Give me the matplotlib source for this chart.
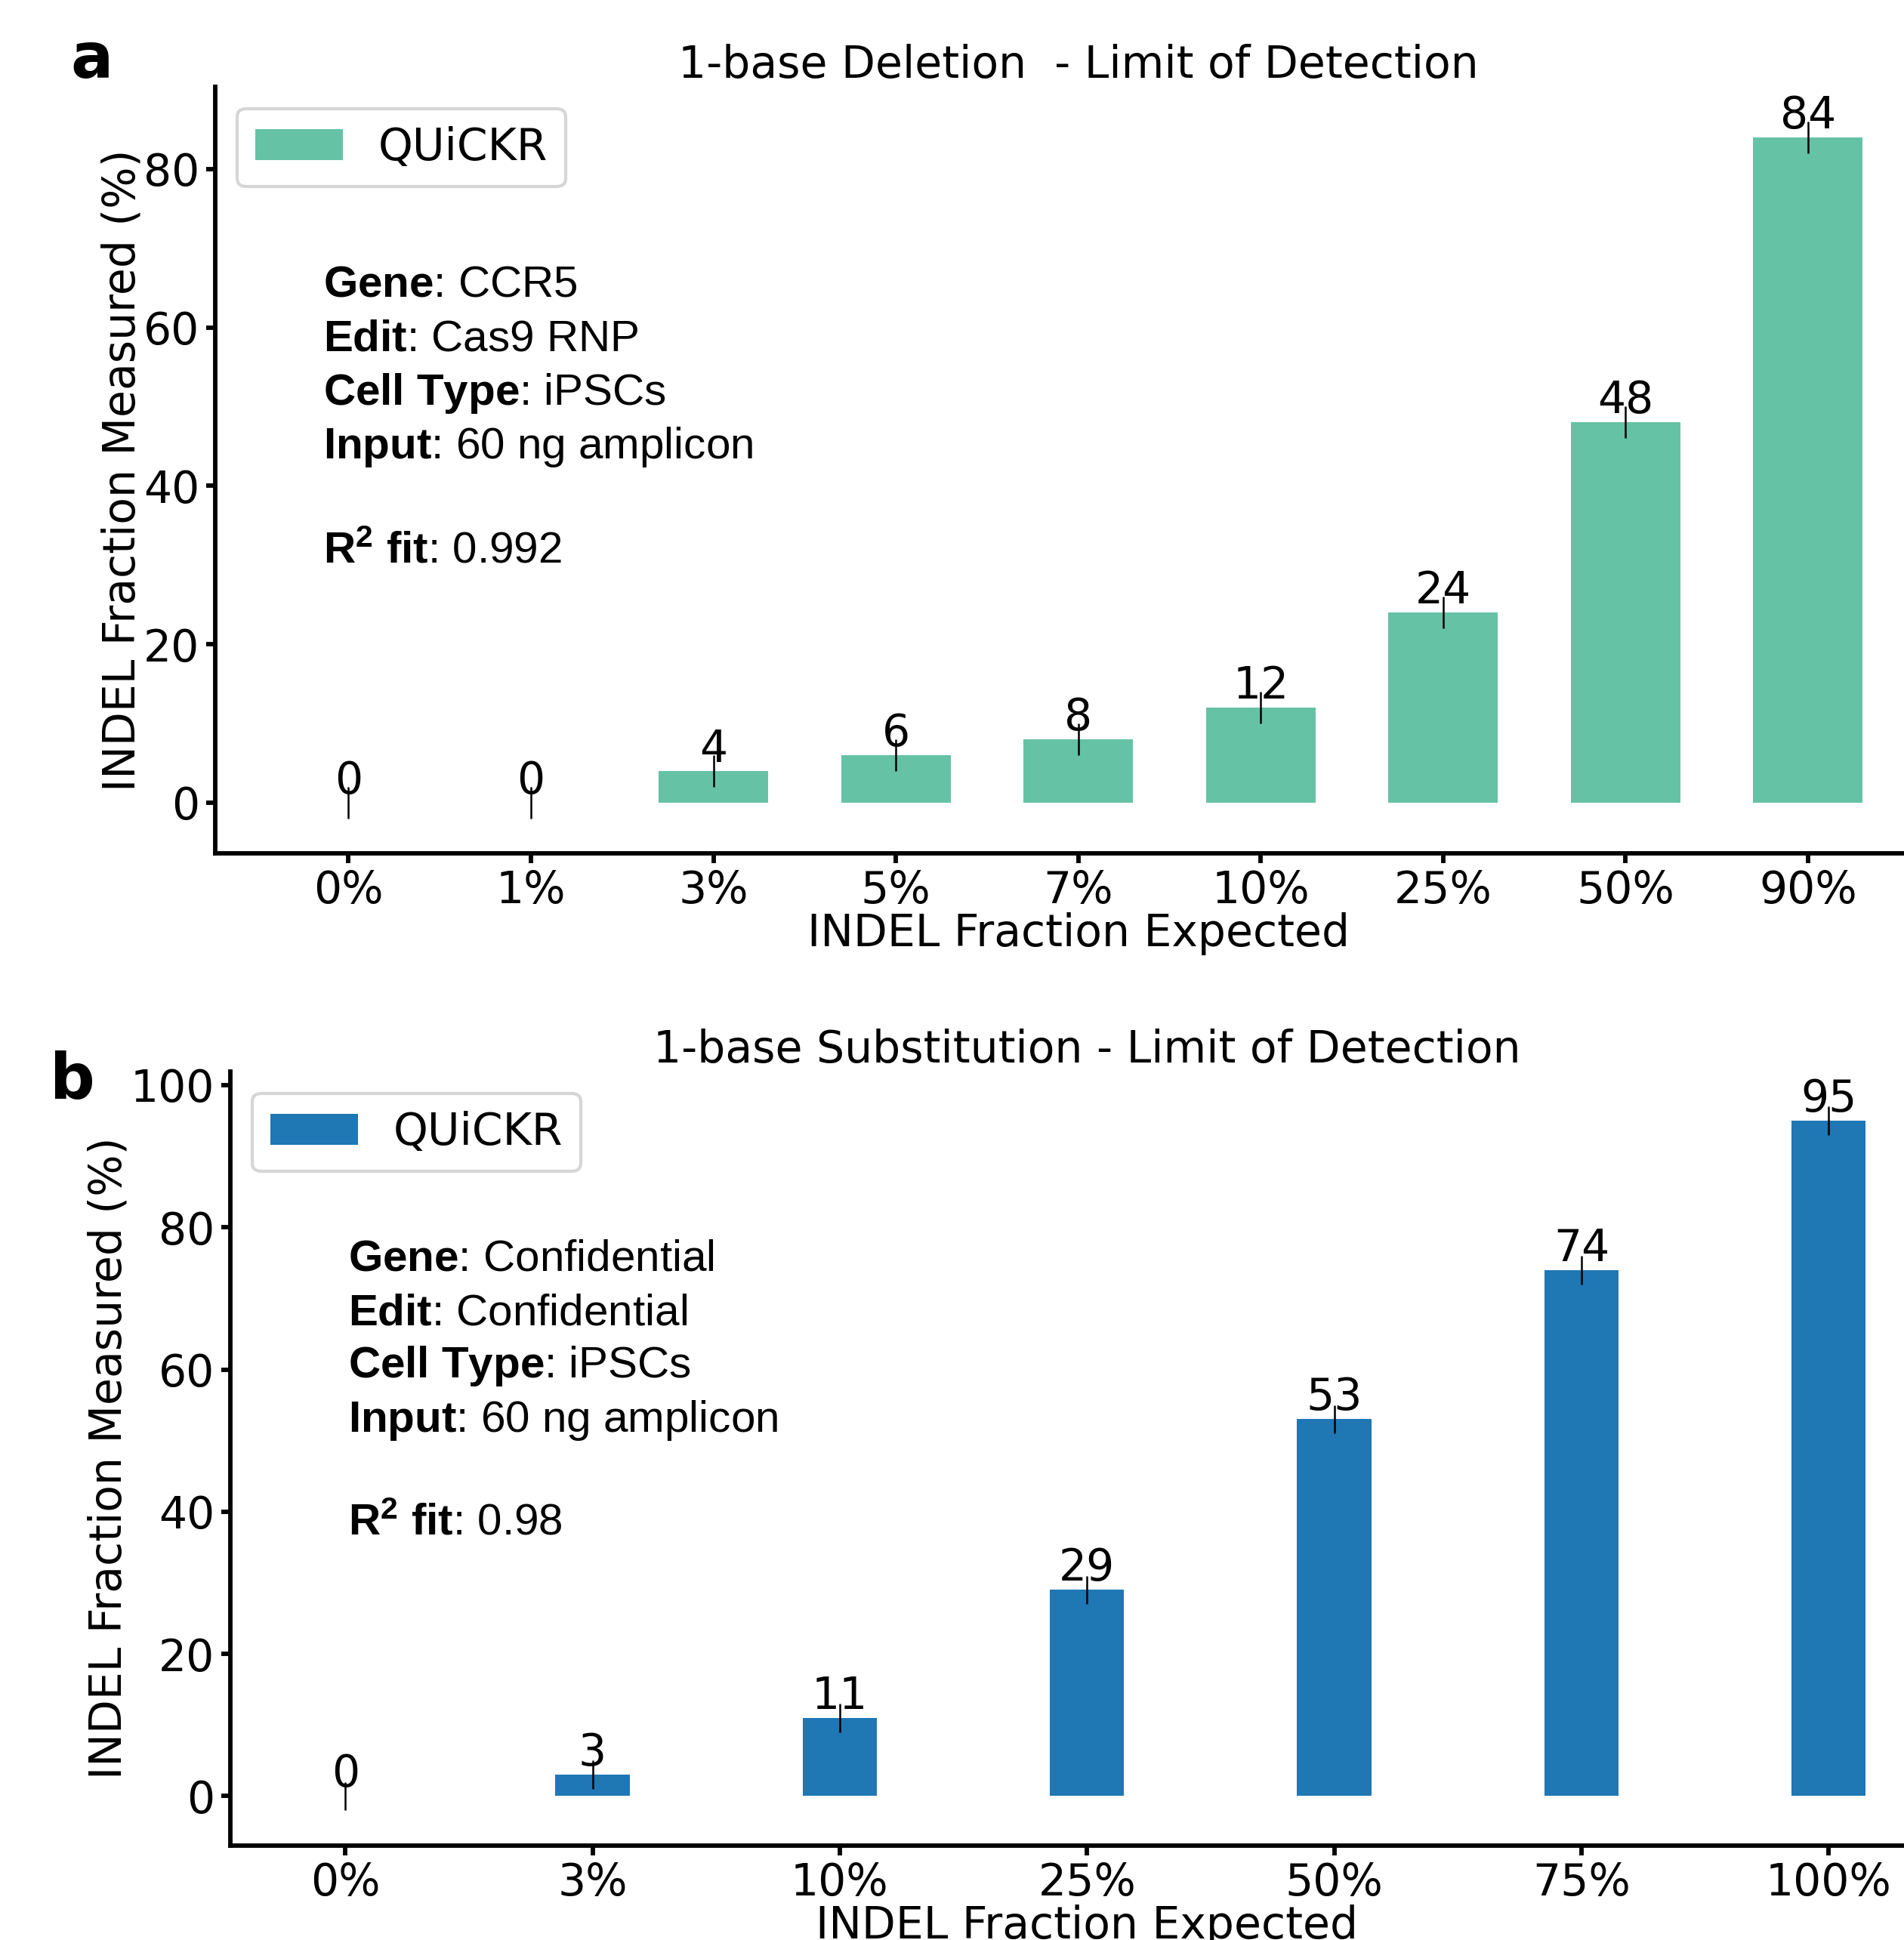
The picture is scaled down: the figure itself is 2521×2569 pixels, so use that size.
import matplotlib
matplotlib.use("Agg")
import matplotlib.pyplot as plt

# ---- data ----
cats_a = ["0%", "1%", "3%", "5%", "7%", "10%", "25%", "50%", "90%"]
vals_a = [0, 0, 4, 6, 8, 12, 24, 48, 84]
err_a = [2, 2, 2, 2, 2, 2, 2, 2, 2]

cats_b = ["0%", "3%", "10%", "25%", "50%", "75%", "100%"]
vals_b = [0, 3, 11, 29, 53, 74, 95]
err_b = [2, 2, 2, 2, 2, 2, 2]

info_a = [("Gene", "CCR5"), ("Edit", "Cas9 RNP"), ("Cell Type", "iPSCs"),
          ("Input", "60 ng amplicon")]
r2_a = "0.992"
info_b = [("Gene", "Confidential"), ("Edit", "Confidential"), ("Cell Type", "iPSCs"),
          ("Input", "60 ng amplicon")]
r2_b = "0.98"

plt.rcParams["font.family"] = ["DejaVu Sans"]
plt.rcParams["mathtext.fontset"] = "custom"
plt.rcParams["mathtext.rm"] = "Liberation Sans"
plt.rcParams["mathtext.bf"] = "Liberation Sans:bold"
plt.rcParams["mathtext.it"] = "Liberation Sans:italic"

W, H, DPI = 2521, 2569, 300
fig = plt.figure(figsize=(W / DPI, H / DPI), dpi=DPI)

FS = 14


def panel(ax, cats, vals, errs, width, color, title, info, r2, text_x, baselines):
    x = list(range(len(cats)))
    bars = ax.bar(x, vals, width=width, color=color, label="QUiCKR")
    ax.bar_label(bars, labels=[str(v) for v in vals], padding=0, fontsize=FS)
    ax.errorbar(x, vals, yerr=errs, fmt="none", ecolor="black",
                elinewidth=0.6, capsize=0, zorder=5)
    ax.set_xticks(x)
    ax.set_xticklabels(cats, fontsize=FS)
    ax.set_xlabel("INDEL Fraction Expected", fontsize=FS, labelpad=0)
    ax.set_ylabel("INDEL Fraction Measured (%)", fontsize=FS, labelpad=0)
    ax.set_title(title, fontsize=FS, pad=2.5)
    ax.tick_params(axis="both", labelsize=FS, length=3, width=1.4, pad=2)
    for s in ["top", "right"]:
        ax.spines[s].set_visible(False)
    for s in ["left", "bottom"]:
        ax.spines[s].set_linewidth(1.4)
    ax.legend(loc="upper left", fontsize=FS)
    lines = [r"$\bf{%s}$: %s" % (k.replace(" ", r"\ "), v) for k, v in info]
    for line, yb in zip(lines, baselines[:4]):
        ax.text(text_x, yb, line, transform=ax.transAxes, fontsize=FS,
                family="Liberation Sans", ha="left", va="baseline")
    ax.text(text_x, baselines[4], r"$\bf{R^2\ fit}$: " + r2, transform=ax.transAxes,
            fontsize=FS, family="Liberation Sans", ha="left", va="baseline")


ax1 = fig.add_axes([0.1131, 0.5601, 1.0195 - 0.1131, 0.9554 - 0.5601])
panel(ax1, cats_a, vals_a, err_a, 0.6, "#66c2a5",
      "1-base Deletion  - Limit of Detection", info_a, r2_a, 0.0624,
      [0.726, 0.655, 0.585, 0.515, 0.379])
ax1.set_yticks([0, 20, 40, 60, 80])

ax2 = fig.add_axes([0.121, 0.0487, 1.0208 - 0.121, 0.4478 - 0.0487])
panel(ax2, cats_b, vals_b, err_b, 0.3, "#1f77b4",
      "1-base Substitution - Limit of Detection", info_b, r2_b, 0.0686,
      [0.743, 0.672, 0.605, 0.534, 0.401])
ax2.set_yticks([0, 20, 40, 60, 80, 100])

fig.text(0.0369, 0.96, "a", fontsize=20, fontweight="bold", ha="left", va="baseline")
fig.text(0.0262, 0.4336, "b", fontsize=20, fontweight="bold", ha="left", va="baseline")

fig.savefig("out.png", dpi=DPI)
